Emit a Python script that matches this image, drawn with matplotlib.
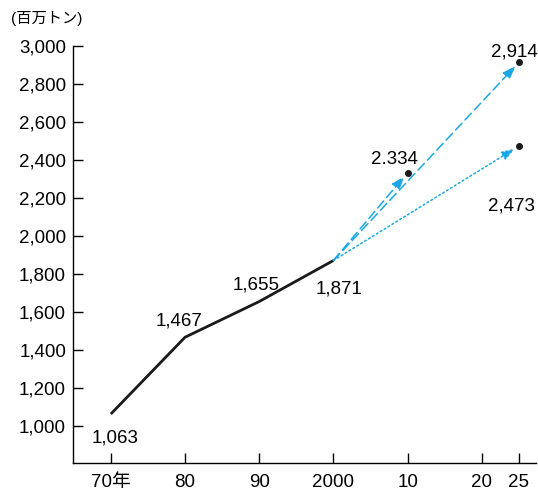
import matplotlib.pyplot as plt

# 世界の穀物需要の推移と見通し
years = [1970, 1980, 1990, 2000]
values = [1063, 1467, 1655, 1871]

# projections from 2000
proj_years = [2010, 2025, 2025]
proj_values = [2334, 2914, 2473]
proj_styles = [(0, (6, 3)), (0, (6, 3)), (0, (1.2, 1.8))]

x_ticks = [1970, 1980, 1990, 2000, 2010, 2020, 2025]
x_labels = ['70年', '80', '90', '2000', '10', '20', '25']
y_ticks = list(range(1000, 3001, 200))

# label text for each point and its offset in pixels
point_labels = ['1,063', '1,467', '1,655', '1,871']
point_offsets = [(4, -24), (-6, 16), (-3, 17), (6, -29)]
proj_labels = ['2.334', '2,914', '2,473']
proj_offsets = [(-13, 13), (-5, 10), (-7, -60)]

plt.rcParams['font.family'] = ['Liberation Sans', 'Noto Sans CJK JP']

fig = plt.figure(figsize=(5.38, 4.91), dpi=100)
ax = fig.add_axes([73/538, 28/491, 463/538, 417/491])

blue = '#1ba6e4'

ax.plot(years, values, color='#1a1a1a', lw=2.0, solid_capstyle='butt', zorder=3)

for yr, val, ls in zip(proj_years, proj_values, proj_styles):
    ax.annotate('', xy=(yr, val), xytext=(years[-1], values[-1]),
                arrowprops=dict(arrowstyle='-|>,head_length=0.8,head_width=0.28',
                                color=blue, lw=1.1, linestyle=ls,
                                shrinkA=0, shrinkB=3.5))
ax.plot(proj_years, proj_values, 'o', color='#1a1a1a', ms=4, zorder=4)

for yr, val, txt, off in zip(years, values, point_labels, point_offsets):
    ax.annotate(txt, (yr, val), xytext=off, textcoords='offset pixels',
                ha='center', va='center', fontsize=13.5)
for yr, val, txt, off in zip(proj_years, proj_values, proj_labels, proj_offsets):
    ax.annotate(txt, (yr, val), xytext=off, textcoords='offset pixels',
                ha='center', va='center', fontsize=13.5)

ax.set_xlim(1964.9, 2027.3)
ax.set_ylim(805, 3000)
ax.set_xticks(x_ticks)
ax.set_xticklabels(x_labels)
ax.set_yticks(y_ticks)
ax.set_yticklabels([f'{v:,}' for v in y_ticks])
ax.tick_params(direction='in', length=7, width=1, labelsize=13.5)
ax.tick_params(axis='y', pad=5)
ax.tick_params(axis='x', pad=8)

for s in ['top', 'right']:
    ax.spines[s].set_visible(False)
for s in ['left', 'bottom']:
    ax.spines[s].set_linewidth(1)

fig.text(11/538, 1 - 19/491, '(百万トン)', fontsize=11, va='center', ha='left')

fig.savefig('out.png')
